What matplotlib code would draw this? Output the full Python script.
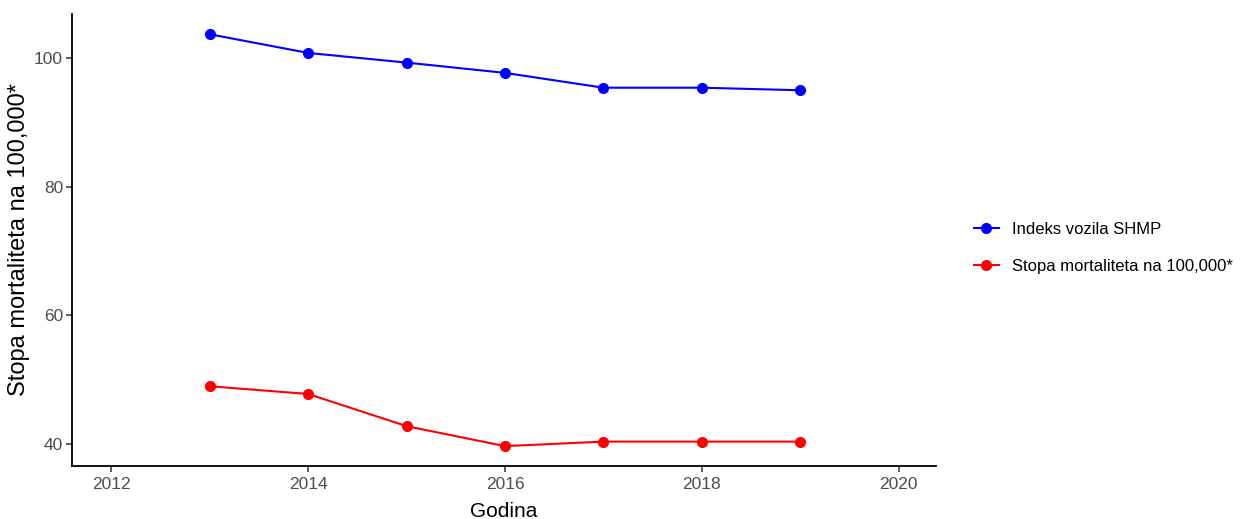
import matplotlib.pyplot as plt

plt.rcParams['font.family'] = ['Liberation Sans', 'DejaVu Sans']

godina = [2013, 2014, 2015, 2016, 2017, 2018, 2019]
indeks_vozila = [103.7, 100.8, 99.3, 97.7, 95.4, 95.4, 95.0]
stopa_mortaliteta = [49.0, 47.8, 42.8, 39.7, 40.4, 40.4, 40.4]
x_ticks = [2012, 2014, 2016, 2018, 2020]
y_ticks = [40, 60, 80, 100]

fig = plt.figure(figsize=(12.42, 5.19), dpi=100)
ax = fig.add_axes([0.058, 0.102, 0.6956, 0.871])

ax.plot(godina, indeks_vozila, color='#0000FF', lw=1.5, marker='o', ms=7,
        label='Indeks vozila SHMP')
ax.plot(godina, stopa_mortaliteta, color='#FF0000', lw=1.5, marker='o', ms=7,
        label='Stopa mortaliteta na 100,000*')

ax.set_xlim(2011.6, 2020.38)
ax.set_ylim(36.6, 106.85)
ax.set_xticks(x_ticks)
ax.set_yticks(y_ticks)

for side in ['top', 'right']:
    ax.spines[side].set_visible(False)
for side in ['left', 'bottom']:
    ax.spines[side].set_linewidth(1.3)
    ax.spines[side].set_color('black')

ax.tick_params(axis='both', length=4, width=1.1, color='#333333',
               labelsize=12.5, labelcolor='#4D4D4D')
ax.tick_params(axis='y', pad=2.5)
ax.tick_params(axis='x', pad=4)

ax.set_xlabel('Godina', fontsize=15, labelpad=7)
ax.set_ylabel('Stopa mortaliteta na 100,000*', fontsize=17, labelpad=3)

fig.legend(loc='center left', bbox_to_anchor=(0.772, 0.522), frameon=False,
           fontsize=12, handlelength=1.5, handletextpad=0.8, labelspacing=1.3)

fig.savefig('out.png', dpi=100)
